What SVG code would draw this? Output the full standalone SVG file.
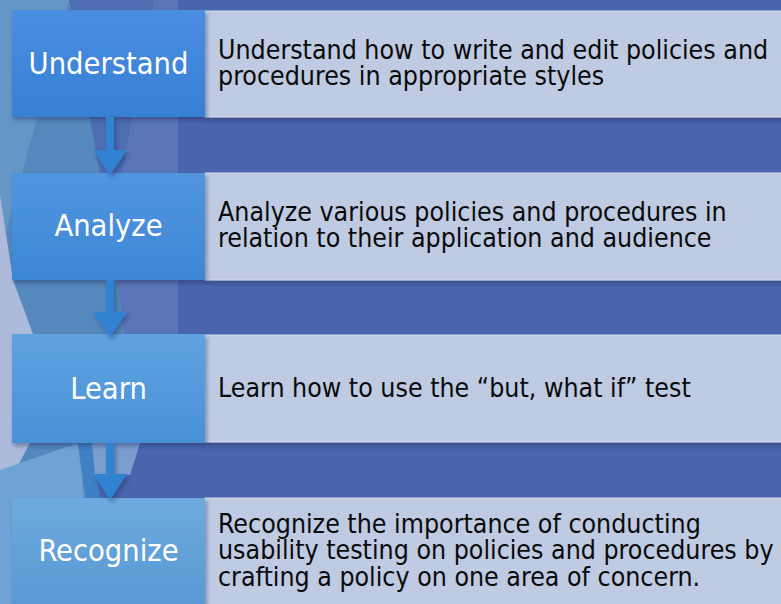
<svg xmlns="http://www.w3.org/2000/svg" width="781" height="604" viewBox="0 0 781 604">
  <defs>
    <style>
      .lbl { font-family: "DejaVu Sans Condensed", "DejaVu Sans", sans-serif; font-stretch: condensed; font-size: 30.5px; fill: #ffffff; text-anchor: middle; }
      .desc { font-family: "DejaVu Sans Condensed", "DejaVu Sans", sans-serif; font-stretch: condensed; font-size: 26.5px; fill: #0a0a0a; }
      .panel { fill: #bfcae3; stroke: #d3dbee; stroke-width: 1; }
      .arrow { fill: #3282d2; }
    </style>
    <linearGradient id="g1" x1="0" y1="0" x2="0" y2="1">
      <stop offset="0" stop-color="#4b8de1"/>
      <stop offset="1" stop-color="#3680d4"/>
    </linearGradient>
    <linearGradient id="g2" x1="0" y1="0" x2="0" y2="1">
      <stop offset="0" stop-color="#5195df"/>
      <stop offset="1" stop-color="#3d87d6"/>
    </linearGradient>
    <linearGradient id="g3" x1="0" y1="0" x2="0" y2="1">
      <stop offset="0" stop-color="#5ea2e0"/>
      <stop offset="1" stop-color="#4a91d7"/>
    </linearGradient>
    <linearGradient id="g4" x1="0" y1="0" x2="0" y2="1">
      <stop offset="0" stop-color="#6eaade"/>
      <stop offset="1" stop-color="#5898d4"/>
    </linearGradient>
    <filter id="sh" x="-10%" y="-10%" width="125%" height="130%">
      <feDropShadow dx="2" dy="3" stdDeviation="2" flood-color="#1a2a50" flood-opacity="0.4"/>
    </filter>
  </defs>

  <!-- background -->
  <g id="background">
    <rect x="0" y="0" width="781" height="604" fill="#4965ae"/>
    <polygon points="0,0 178,0 178,443 140,443 130,475 95,475 100,604 0,604" fill="#5589bd"/>
    <polygon points="0,0 69,0 0,254" fill="#6497c5"/>
    <polygon points="69,0 154,0 111,236" fill="#4f6db3"/>
    <polygon points="154,0 178,0 178,443 140,443 111,236" fill="#5a75b8"/>
    <polygon points="0,195 13,280 33,334 55,395 0,500" fill="#adbadb"/>
    <polygon points="0,470 78,443 96,604 0,604" fill="#6fa3d6"/>
    <polygon points="78,443 92,443 100,498 86,498" fill="#3f80c4"/>
    <polygon points="92,443 140,443 130,475 95,475" fill="#7b9dd0"/>
  </g>

  <!-- right panels -->
  <g id="panel-understand">
    <rect class="panel" x="205" y="11" width="590" height="106" filter="url(#sh)"/>
    <text class="desc" x="218" y="59">Understand how to write and edit policies and</text>
    <text class="desc" x="218" y="85">procedures in appropriate styles</text>
  </g>
  <g id="panel-analyze">
    <rect class="panel" x="205" y="173" width="590" height="107" filter="url(#sh)"/>
    <text class="desc" x="218" y="221">Analyze various policies and procedures in</text>
    <text class="desc" x="218" y="247">relation to their application and audience</text>
  </g>
  <g id="panel-learn">
    <rect class="panel" x="205" y="335" width="590" height="107" filter="url(#sh)"/>
    <text class="desc" x="218" y="397">Learn how to use the “but, what if” test</text>
  </g>
  <g id="panel-recognize">
    <rect class="panel" x="205" y="498" width="590" height="120" filter="url(#sh)"/>
    <text class="desc" x="218" y="533">Recognize the importance of conducting</text>
    <text class="desc" x="218" y="559">usability testing on policies and procedures by</text>
    <text class="desc" x="218" y="586">crafting a policy on one area of concern.</text>
  </g>

  <!-- left step boxes -->
  <g id="node-understand">
    <rect x="12" y="10" width="193" height="107" fill="url(#g1)" filter="url(#sh)"/>
    <text class="lbl" x="108.5" y="74">Understand</text>
  </g>
  <g id="node-analyze">
    <rect x="12" y="173" width="193" height="107" fill="url(#g2)" filter="url(#sh)"/>
    <text class="lbl" x="108.5" y="236">Analyze</text>
  </g>
  <g id="node-learn">
    <rect x="12" y="334" width="193" height="109" fill="url(#g3)" filter="url(#sh)"/>
    <text class="lbl" x="108.5" y="399">Learn</text>
  </g>
  <g id="node-recognize">
    <rect x="12" y="498" width="193" height="110" fill="url(#g4)" filter="url(#sh)"/>
    <text class="lbl" x="108.5" y="561">Recognize</text>
  </g>

  <!-- connectors -->
  <g id="connectors" filter="url(#sh)">
    <polygon class="arrow" points="106,117 114,117 114,150 127,150 110,175 93,150 106,150"/>
    <polygon class="arrow" points="106,280 114,280 114,312 127,312 110,337 93,312 106,312"/>
    <polygon class="arrow" points="106,443 114,443 114,474 127,474 110,500 93,474 106,474"/>
  </g>
</svg>
